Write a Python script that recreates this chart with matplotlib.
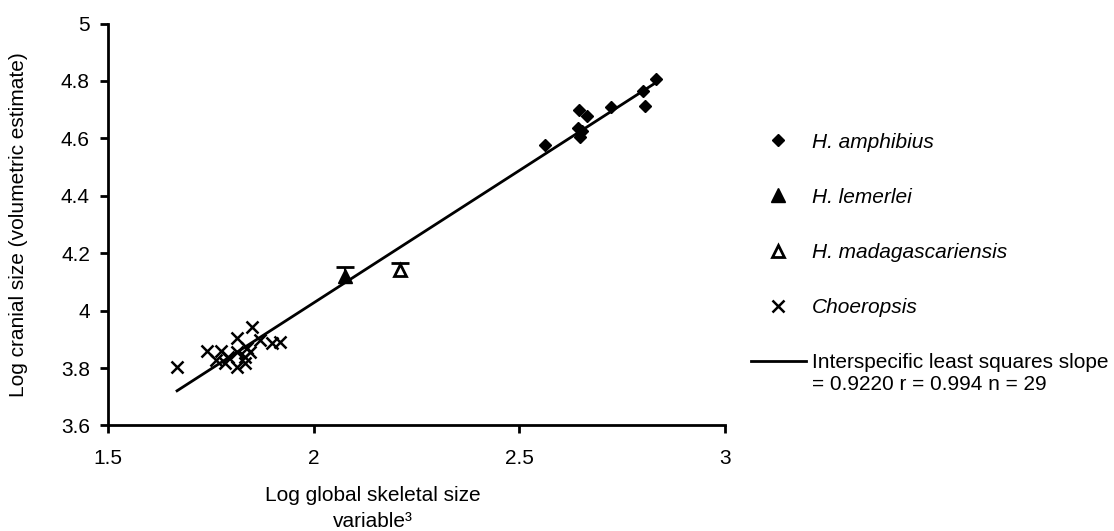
import numpy as np
import matplotlib
matplotlib.use('Agg')
import matplotlib.pyplot as plt

plt.rcParams['font.family'] = ['Liberation Sans', 'DejaVu Sans']
plt.rcParams['font.size'] = 15

# H. amphibius
amph_x = [2.562, 2.645, 2.665, 2.643, 2.648, 2.652, 2.723, 2.801, 2.806, 2.832]
amph_y = [4.577, 4.699, 4.678, 4.636, 4.605, 4.626, 4.709, 4.765, 4.713, 4.807]

# H. lemerlei / H. madagascariensis (mean + error)
lem_x, lem_y, lem_err = [2.076], [4.122], [0.030]
mad_x, mad_y, mad_err = [2.210], [4.142], [0.025]

# Choeropsis
choe_x = [1.668, 1.740, 1.774, 1.763, 1.784, 1.813, 1.814, 1.849, 1.814,
          1.792, 1.833, 1.837, 1.845, 1.870, 1.898, 1.918, 1.833]
choe_y = [3.805, 3.861, 3.861, 3.828, 3.817, 3.857, 3.904, 3.944, 3.805,
          3.840, 3.840, 3.869, 3.857, 3.898, 3.886, 3.892, 3.817]

# least squares line
slope = 0.9220
intercept = 2.183

fig = plt.figure(figsize=(11.14, 5.31), dpi=100)
ax = fig.add_axes([0.0969, 0.1987, 0.5539, 0.757])

all_x = amph_x + lem_x + mad_x + choe_x
lx = np.array([min(all_x), max(all_x)])
ln, = ax.plot(lx, slope * lx + intercept, color='black', lw=2, zorder=2)

# only the upper half of the error bars shows
for ex, ey, ee in [(lem_x, lem_y, lem_err), (mad_x, mad_y, mad_err)]:
    top = np.array(ey) + np.array(ee)
    ax.vlines(ex, ey, top, color='black', lw=1.5, zorder=3)
    ax.plot(ex, top, '_', color='black', markersize=13, mew=2, zorder=3)

h1, = ax.plot(amph_x, amph_y, 'D', color='black', markersize=6.5, ls='none', zorder=4)
h2, = ax.plot(lem_x, lem_y, '^', color='black', markersize=10, ls='none', zorder=4)
h3, = ax.plot(mad_x, mad_y, '^', mfc='white', mec='black', mew=2, markersize=9,
              ls='none', zorder=4)
h4, = ax.plot(choe_x, choe_y, 'x', color='black', markersize=8, mew=1.8, ls='none', zorder=4)

ax.set_xlim(1.5, 3)
ax.set_ylim(3.6, 5)
ax.set_xticks([1.5, 2, 2.5, 3])
ax.set_xticklabels(['1.5', '2', '2.5', '3'])
ax.set_yticks([3.6, 3.8, 4, 4.2, 4.4, 4.6, 4.8, 5])
ax.set_yticklabels(['3.6', '3.8', '4', '4.2', '4.4', '4.6', '4.8', '5'])
ax.spines['top'].set_visible(False)
ax.spines['right'].set_visible(False)
for s in ['left', 'bottom']:
    ax.spines[s].set_linewidth(2)
ax.tick_params(axis='y', direction='out', length=6, width=2, pad=7)
ax.tick_params(axis='x', direction='out', length=6, width=2, pad=11)

ax.set_ylabel('Log cranial size (volumetric estimate)')
ax.yaxis.set_label_coords(-0.130, 0.5)
ax.set_xlabel('Log global skeletal size\nvariable³', linespacing=1.45)
ax.xaxis.set_label_coords(0.43, -0.15)

leg = fig.legend([h1, h2, h3, h4, ln],
                 ['H. amphibius', 'H. lemerlei', 'H. madagascariensis', 'Choeropsis',
                  'Interspecific least squares slope'],
                 loc='upper left', bbox_to_anchor=(0.674, 0.75), frameon=False,
                 handlelength=2.64, handletextpad=0.3, labelspacing=1.73,
                 borderpad=0, borderaxespad=0)
for t in leg.get_texts()[:4]:
    t.set_style('italic')

# second line of the slope label, under the first
fig.canvas.draw()
bb = leg.get_texts()[4].get_window_extent().transformed(fig.transFigure.inverted())
fig.text(bb.x0, bb.y0 - 0.005, '= 0.9220 r = 0.994 n = 29', ha='left', va='top')

plt.savefig('out.png')
